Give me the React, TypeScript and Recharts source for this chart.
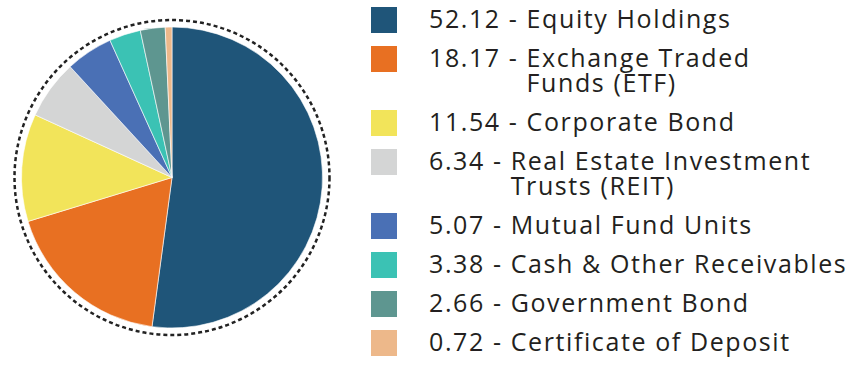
import React from "react";
import { PieChart, Pie, Cell, Legend, PolarGrid } from "recharts";

const names = [
  "Equity Holdings",
  "Exchange Traded\nFunds (ETF)",
  "Corporate Bond",
  "Real Estate Investment\nTrusts (REIT)",
  "Mutual Fund Units",
  "Cash & Other Receivables",
  "Government Bond",
  "Certificate of Deposit",
];
const values = [52.12, 18.17, 11.54, 6.34, 5.07, 3.38, 2.66, 0.72];
const colors = ["#1F5579", "#E87022", "#F2E45A", "#D4D5D5", "#4A70B5", "#3BC2B4", "#5E9690", "#EDB88A"];

const data = names.map((name, i) => ({ name, value: values[i] }));

const LegendContent = () => {
  return (
    <div
      style={{
        fontFamily: "'Open Sans', sans-serif",
        fontSize: 25,
        lineHeight: "25px",
        letterSpacing: 1.6,
        color: "#231F20",
        textAlign: "left",
      }}
    >
      {names.map((label, i) => (
        <div key={i} style={{ position: "relative", paddingLeft: 58, marginBottom: 14, display: "flex" }}>
          <div style={{ position: "absolute", left: 0, top: 1, width: 26, height: 26, background: colors[i] }} />
          <span style={{ whiteSpace: "pre" }}>{values[i].toFixed(2)} - </span>
          <span style={{ whiteSpace: "pre-line" }}>{label}</span>
        </div>
      ))}
    </div>
  );
};

export default function App() {
  return (
    <div style={{ position: "absolute", left: 0, top: 0, background: "#fff" }}>
      <PieChart
        width={854}
        height={385}
        cx={172}
        cy={177.5}
        margin={{ top: 0, right: 0, bottom: 0, left: 0 }}
      >
        <PolarGrid
          cx={172}
          cy={177.5}
          gridType="circle"
          radialLines={false}
          polarRadius={[157.5]}
          polarAngles={[]}
          stroke="#222"
          strokeWidth={2.5}
          strokeDasharray="4 3"
        />
        <Pie
          data={data}
          dataKey="value"
          nameKey="name"
          cx={172}
          cy={177.5}
          outerRadius={150.5}
          startAngle={90}
          endAngle={-270}
          stroke="#fff"
          strokeWidth={0.6}
          isAnimationActive={false}
        >
          {data.map((_, i) => (
            <Cell key={i} fill={colors[i]} />
          ))}
        </Pie>
        <Legend
          layout="vertical"
          content={<LegendContent />}
          wrapperStyle={{ left: 371, top: 6, width: 483 }}
        />
      </PieChart>
    </div>
  );
}
